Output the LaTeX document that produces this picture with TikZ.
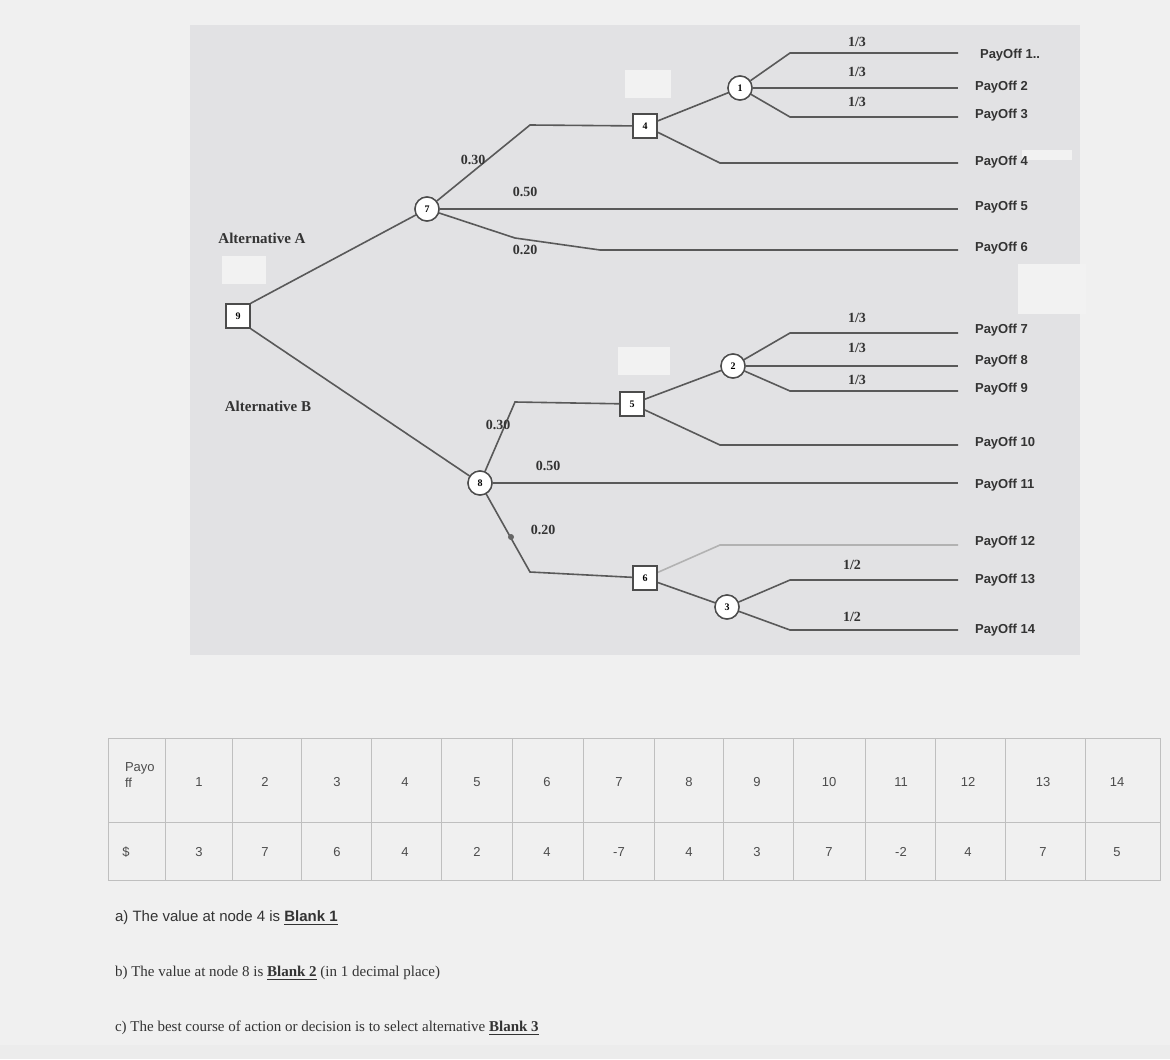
\documentclass[tikz,border=0pt]{standalone}
\usepackage{fontspec}
\setsansfont{Liberation Sans}
\setmainfont{Liberation Serif}
\begin{document}
\begin{tikzpicture}[x=0.5pt,y=-0.5pt,
  ln/.style={draw=black!65,line width=0.8pt},
  sq/.style={draw=black!70,fill=white,minimum size=12pt,inner sep=0pt,font=\bfseries\fontsize{5}{6}\selectfont,line width=0.7pt},
  ci/.style={circle,draw=black!70,fill=white,minimum size=12pt,inner sep=0pt,font=\bfseries\fontsize{5}{6}\selectfont,line width=0.7pt},
  pr/.style={font=\bfseries\fontsize{7}{8}\selectfont,text=black!80},
  po/.style={font=\sffamily\bfseries\fontsize{6.5}{7}\selectfont,text=black!80,anchor=west},
  alt/.style={font=\bfseries\fontsize{7.5}{8}\selectfont,text=black!80},
  tb/.style={font=\sffamily\fontsize{6.5}{8}\selectfont,text=black!70}]
\useasboundingbox (0,0) rectangle (1170,1059);
\fill[gray!12] (0,0) rectangle (1170,1059);
\fill[white!85!gray] (0,1045) rectangle (1170,1059);
\fill[blue!4!gray!22] (190,25) rectangle (1080,655);
\foreach \x/\y/\w/\h in {222/256/44/28, 625/70/46/28, 618/347/52/28, 1018/264/68/50, 1022/150/50/10}
  \fill[white!90!gray] (\x,\y) rectangle ++(\w,\h);
\node[sq] (n9) at (238,316) {9};
\node[ci] (n7) at (427,209) {7};
\node[sq] (n4) at (645,126) {4};
\node[ci] (n1) at (740,88) {1};
\node[ci] (n8) at (480,483) {8};
\node[sq] (n5) at (632,404) {5};
\node[ci] (n2) at (733,366) {2};
\node[sq] (n6) at (645,578) {6};
\node[ci] (n3) at (727,607) {3};
\foreach \n/\y in {1/53,2/88,3/117,4/163,5/209,6/250,7/333,8/366,9/391,10/445,11/483,12/545,13/580,14/630}
  \coordinate (e\n) at (958,\y);
\draw[ln] (n9.north east) -- (n7);
\draw[ln] (n9.south east) -- (n8);
\draw[ln] (n7) -- (530,125) -- (n4);
\draw[ln] (n7) -- (e5);
\draw[ln] (n7) -- (515,238) -- (600,250) -- (e6);
\draw[ln] (n4) -- (n1);
\draw[ln] (n1) -- (790,53) -- (e1);
\draw[ln] (n1) -- (e2);
\draw[ln] (n1) -- (790,117) -- (e3);
\draw[ln] (n4) -- (720,163) -- (e4);
\draw[ln] (n8) -- (515,402) -- (n5);
\draw[ln] (n8) -- (e11);
\draw[ln] (n8) -- (530,572) -- (n6);
\draw[ln] (n5) -- (n2);
\draw[ln] (n2) -- (790,333) -- (e7);
\draw[ln] (n2) -- (e8);
\draw[ln] (n2) -- (790,391) -- (e9);
\draw[ln] (n5) -- (720,445) -- (e10);
\draw[ln,draw=black!30] (n6) -- (720,545) -- (e12);
\draw[ln] (n6) -- (n3);
\draw[ln] (n3) -- (790,580) -- (e13);
\draw[ln] (n3) -- (790,630) -- (e14);
\node[sq] at (238,316) {9};
\node[ci] at (427,209) {7};
\node[sq] at (645,126) {4};
\node[ci] at (740,88) {1};
\node[ci] at (480,483) {8};
\node[sq] at (632,404) {5};
\node[ci] at (733,366) {2};
\node[sq] at (645,578) {6};
\node[ci] at (727,607) {3};
\fill[black!60] (511,537) circle (3);
\node[alt] (la) at (262,238) {Alternative A};
\node[alt] (lb) at (268,406) {Alternative B};
\node[pr] (p1) at (473,160) {0.30};
\node[pr] (p2) at (525,192) {0.50};
\node[pr] (p3) at (525,250) {0.20};
\node[pr] (p4) at (498,425) {0.30};
\node[pr] (p5) at (548,466) {0.50};
\node[pr] (p6) at (543,530) {0.20};
\foreach \y [count=\i] in {42,72,102,318,348,380} \node[pr] (q\i) at (857,\y) {1/3};
\node[pr] (h1) at (852,565) {1/2};
\node[pr] (h2) at (852,617) {1/2};
\foreach \n/\y in {2/87,3/115,4/162,5/207,6/248,7/330,8/361,9/389,10/443,11/485,12/542,13/580,14/630}
  \node[po] (t\n) at (968,\y) {PayOff \n};
\node[po] (t1) at (973,55) {PayOff 1..};
\draw[black!25,line width=0.5pt] (108,738) rectangle (1160,880);
\draw[black!25,line width=0.5pt] (108,822) -- (1160,822);
\foreach \x in {165,232,301,371,441,512,583,654,723,793,865,935,1005,1085}
  \draw[black!25,line width=0.5pt] (\x,738) -- (\x,880);
\node[tb,align=left,anchor=north west] (hd) at (118,755) {Payo\\ff};
\node[tb] (hd2) at (126,852) {\$};
\foreach \x/\v [count=\i] in {199/3,265/7,337/6,405/4,477/2,547/4,619/-7,689/4,757/3,829/7,901/-2,968/4,1043/7,1117/5}{
  \node[tb] (c\i) at (\x,782) {\i};
  \node[tb] (d\i) at (\x,852) {\v};}
\node[font=\sffamily\fontsize{7.5}{9}\selectfont,anchor=west,text=black!80] (qa) at (108,918) {a) The value at node 4 is \textbf{\underline{Blank 1}}};
\node[font=\fontsize{7.5}{9}\selectfont,anchor=west,text=black!80] (qb) at (108,973) {b) The value at node 8 is \textbf{\underline{Blank 2}} (in 1 decimal place)};
\node[font=\fontsize{7.5}{9}\selectfont,anchor=west,text=black!80] (qc) at (108,1028) {c) The best course of action or decision is to select alternative \textbf{\underline{Blank 3}}};
\end{tikzpicture}
\end{document}
